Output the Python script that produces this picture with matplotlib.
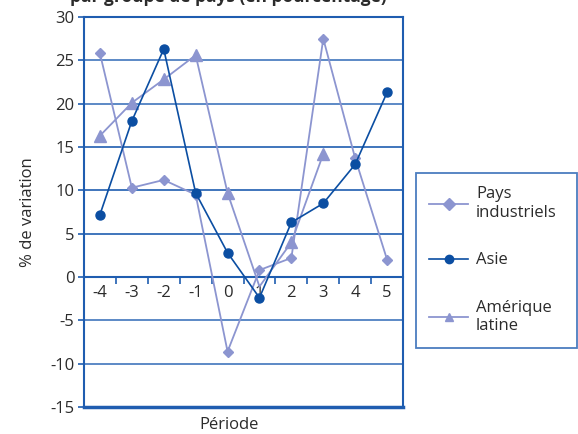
import numpy as np
import matplotlib.pyplot as plt
from matplotlib.ticker import FixedLocator

plt.rcParams['font.family'] = ['Open Sans', 'DejaVu Sans']
plt.rcParams['axes.unicode_minus'] = False

# data
periodes = [-4, -3, -2, -1, 0, 1, 2, 3, 4, 5]
pays_industriels = [25.8, 10.3, 11.2, 9.5, -8.6, 0.8, 2.2, 27.5, 13.7, 2.0]
asie = [7.2, 18.0, 26.3, 9.7, 2.8, -2.4, 6.3, 8.5, 13.0, 21.3]
amerique_latine = [16.3, 20.1, 22.8, 25.6, 9.7, -1.1, 4.0, 14.2, None, None]

light = '#8c95d0'
dark = '#0b4ea2'
frame = '#1f5db0'
txt = '#2b2b2b'

fig = plt.figure(figsize=(5.78, 4.34), dpi=100)
ax = fig.add_axes([0.1453, 0.0622, 0.552, 0.8986])

ax.set_xlim(-4.5, 5.5)
ax.set_ylim(-15, 30)

# horizontal grid
for v in [25, 20, 15, 10, 5, -5, -10]:
    ax.axhline(v, color=frame, lw=1.2, alpha=0.85 if v in (25, 20, -5, -10) else 1, zorder=1)

x = np.array(periodes)
al = np.array([np.nan if v is None else v for v in amerique_latine])

ax.plot(x, pays_industriels, color=light, lw=1.3, marker='D', ms=5.5, mec=light, mfc=light,
        label='Pays\nindustriels', zorder=3)
ax.plot(x, asie, color=dark, lw=1.2, marker='o', ms=6.5, mec=dark, mfc=dark,
        label='Asie', zorder=4)
ax.plot(x, al, color=light, lw=1.3, marker='^', ms=8, mec=light, mfc=light,
        markevery=[0, 1, 2, 3, 4, 6, 7], label='Amérique\nlatine', zorder=3)

# frame
for s in ['left', 'right', 'top']:
    ax.spines[s].set_color(frame)
    ax.spines[s].set_linewidth(1.5)
ax.spines['bottom'].set_position(('data', 0))
ax.spines['bottom'].set_color(frame)
ax.spines['bottom'].set_linewidth(1.5)
ax.axhline(-15, color=frame, lw=2.5, clip_on=False, zorder=5)

# x axis: ticks between categories, labels on categories
ax.xaxis.set_major_locator(FixedLocator(np.arange(-3.5, 5.0, 1.0)))
ax.xaxis.set_minor_locator(FixedLocator(periodes))
ax.xaxis.set_major_formatter(plt.NullFormatter())
ax.set_xticklabels([str(p) for p in periodes], minor=True)
ax.tick_params(axis='x', which='major', direction='out', length=5, width=1.2, color=frame)
ax.tick_params(axis='x', which='minor', length=0, pad=6, labelsize=12, labelcolor=txt)

ax.set_yticks(np.arange(-15, 31, 5))
ax.tick_params(axis='y', direction='out', length=4, width=1.2, color=frame,
               labelsize=12, labelcolor=txt, pad=3)

ax.set_ylabel('% de variation', fontsize=12, color=txt, labelpad=10)
ax.set_xlabel('Période', fontsize=12, color=txt, labelpad=0)
ax.xaxis.set_label_coords(0.455, -0.025)

fig.text(0.395, 1 - 2 / 434, 'par groupe de pays (en pourcentage)', fontsize=12.5,
         fontweight='bold', color=txt, ha='center', va='baseline')

leg = fig.legend(loc='upper left', bbox_to_anchor=(416 / 578, 1 - 348 / 434, 161 / 578, 175 / 434),
                 mode='expand', fontsize=12,
                 frameon=True, fancybox=False, borderpad=0.8, labelspacing=1.9,
                 handlelength=2.3, handletextpad=0.5, borderaxespad=0)
leg.get_frame().set_edgecolor(frame)
leg.get_frame().set_linewidth(1.3)
for t in leg.get_texts():
    t.set_color(txt)
for h in leg.legend_handles:
    h.set_markersize(6)

fig.savefig('out.png', dpi=100)
